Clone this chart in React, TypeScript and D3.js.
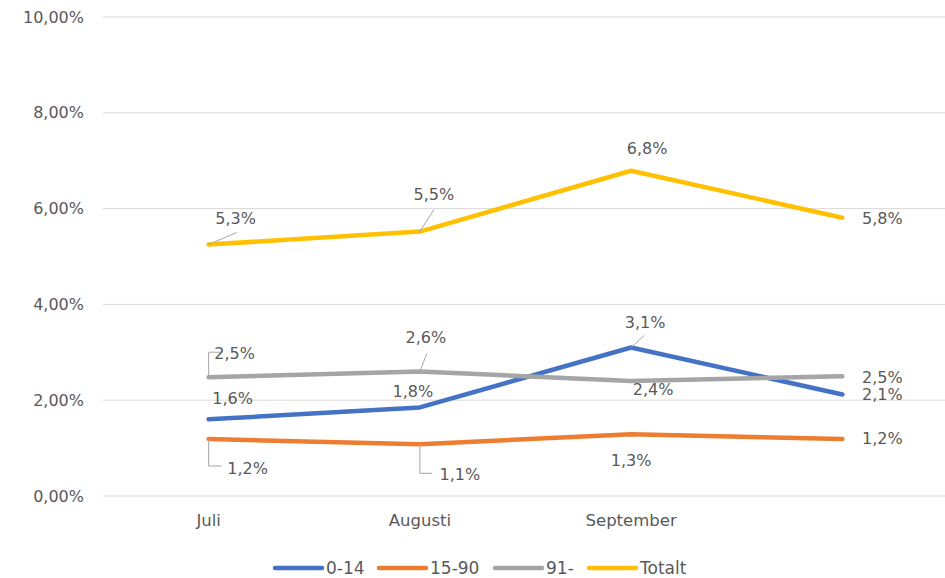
import React from 'react';
import * as d3 from 'd3';

// data
const months = ['Juli', 'Augusti', 'September', ''];
const seriesNames = ['0-14', '15-90', '91-', 'Totalt'];
const values014 = [1.6, 1.85, 3.1, 2.12];
const values1590 = [1.19, 1.08, 1.29, 1.19];
const values91 = [2.48, 2.6, 2.4, 2.5];
const valuesTotal = [5.25, 5.52, 6.79, 5.81];
const labels014 = ['1,6%', '1,8%', '3,1%', '2,1%'];
const labels1590 = ['1,2%', '1,1%', '1,3%', '1,2%'];
const labels91 = ['2,5%', '2,6%', '2,4%', '2,5%'];
const labelsTotal = ['5,3%', '5,5%', '6,8%', '5,8%'];
const yTicks = [0, 2, 4, 6, 8, 10];

const colors = ['#4472C4', '#ED7D31', '#A5A5A5', '#FFC000'];

// label placement (offset from point) and leader lines, per series
const labelOffsets = [
  [[24, -21], [-7, -16], [14, -25], [40, 0]],
  [[39, 30], [40, 30], [0, 26], [40, 0]],
  [[26, -24], [6, -34], [22, 8], [40, 1]],
  [[27, -26], [14, -37], [16, -22], [40, 1]],
];
const leaders: (string | null)[][] = [
  [null, null, 'M0,0L13,-12', null],
  ['M0,0V27H13', 'M0,0V29H12', null, null],
  ['M0,0V-25H13', 'M0,0L7,-18', null, null],
  ['M0,0L28,-12', 'M0,0L14,-22', null, null],
];

const W = 945;
const H = 578;
const margin = { top: 17, right: 0, bottom: 82, left: 103 };
const font = '"DejaVu Sans", sans-serif';
const textColor = '#595959';

export default function App() {
  const x = d3.scaleBand().domain(months).range([margin.left, 948]);
  const y = d3.scaleLinear().domain([0, 10]).range([H - margin.bottom, margin.top]);
  const line = d3
    .line<number>()
    .x((_, i) => (x(months[i]) as number) + x.bandwidth() / 2)
    .y((d) => y(d));

  const allValues = [values014, values1590, values91, valuesTotal];
  const allLabels = [labels014, labels1590, labels91, labelsTotal];
  const fmt = (v: number) => d3.format('.2f')(v).replace('.', ',') + '%';

  const legendX = [275, 379, 495, 589];

  return (
    <div style={{ position: 'absolute', left: 0, top: 0 }}>
      <svg width={W} height={H} style={{ display: 'block', background: '#fff' }}>
        {/* gridlines + y labels */}
        {yTicks.map((t) => (
          <g key={t}>
            <line x1={margin.left} x2={948} y1={y(t)} y2={y(t)} stroke="#D9D9D9" strokeWidth={1} />
            <text x={84} y={y(t)} textAnchor="end" dominantBaseline="central" fontFamily={font} fontSize={16} fill={textColor}>
              {fmt(t)}
            </text>
          </g>
        ))}
        {/* x labels */}
        {months.map((m) => (
          <text key={m} x={(x(m) as number) + x.bandwidth() / 2} y={520} textAnchor="middle" dominantBaseline="central" fontFamily={font} fontSize={16.5} fill={textColor}>
            {m}
          </text>
        ))}
        {/* lines */}
        {allValues.map((vals, s) => (
          <path key={s} d={line(vals) || ''} fill="none" stroke={colors[s]} strokeWidth={4.5} strokeLinejoin="round" strokeLinecap="round" />
        ))}
        {/* leaders and data labels */}
        {allValues.map((vals, s) =>
          vals.map((v, i) => {
            const px = (x(months[i]) as number) + x.bandwidth() / 2;
            const py = y(v);
            const [dx, dy] = labelOffsets[s][i];
            const ld = leaders[s][i];
            return (
              <g key={`${s}-${i}`}>
                {ld && <path d={ld} transform={`translate(${px},${py})`} fill="none" stroke="#A6A6A6" strokeWidth={1} />}
                <text x={px + dx} y={py + dy} textAnchor="middle" dominantBaseline="central" fontFamily={font} fontSize={16} fill={textColor}>
                  {allLabels[s][i]}
                </text>
              </g>
            );
          })
        )}
        {/* legend */}
        {seriesNames.map((n, i) => (
          <g key={n}>
            <line x1={legendX[i]} x2={legendX[i] + 47} y1={568} y2={568} stroke={colors[i]} strokeWidth={4.5} strokeLinecap="round" />
            <text x={legendX[i] + 51} y={568} dominantBaseline="central" fontFamily={font} fontSize={17} fill={textColor}>
              {n}
            </text>
          </g>
        ))}
      </svg>
    </div>
  );
}
